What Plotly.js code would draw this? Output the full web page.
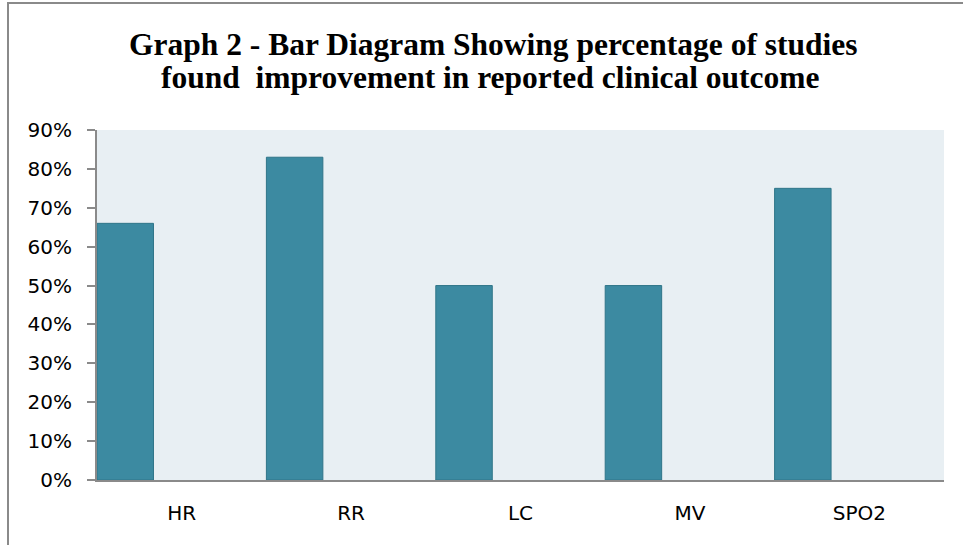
<!DOCTYPE html>
<html>
<head>
<meta charset="utf-8">
<script src="https://cdn.plot.ly/plotly-3.0.1.min.js"></script>
<style>
  html, body { margin: 0; padding: 0; background: #fff; }
  #wrap { position: relative; width: 963px; height: 545px; overflow: hidden; }
  #chart { position: absolute; left: 0; top: 0; width: 963px; height: 545px; }
  #frame { position: absolute; left: 7px; top: 2px; width: 2000px; height: 2000px;
           border-left: 2px solid #8a8a8a; border-top: 2px solid #8a8a8a; pointer-events: none; }
</style>
</head>
<body>
<div id="wrap">
  <div id="chart"></div>
  <div id="frame"></div>
</div>
<script>
const categories = ["HR", "RR", "LC", "MV", "SPO2"];
const values = [0.66, 0.83, 0.50, 0.50, 0.75];
const yTickValues = [0, 0.1, 0.2, 0.3, 0.4, 0.5, 0.6, 0.7, 0.8, 0.9];
const yTickLabels = ["0%", "10%", "20%", "30%", "40%", "50%", "60%", "70%", "80%", "90%"];
const titleLines = ["Graph 2 - Bar Diagram Showing percentage of studies",
                    "found  improvement in reported clinical outcome"];

const trace = {
  type: "bar",
  x: categories,
  y: values,
  width: 1/3,
  offset: -0.5,
  marker: { color: "#3C8AA1", line: { color: "#2F7588", width: 1 } },
  hoverinfo: "x+y"
};

const titleFont = { family: "Liberation Serif", size: 31.5, color: "#000", weight: "bold" };

const layout = {
  width: 963, height: 545,
  margin: { l: 97, r: 19, t: 130, b: 65 },
  paper_bgcolor: "rgba(0,0,0,0)",
  plot_bgcolor: "#E8EFF3",
  showlegend: false,
  annotations: [
    { text: titleLines[0], font: titleFont, showarrow: false,
      xref: "paper", yref: "paper", x: 0.4681, y: 1.2457, xanchor: "center", yanchor: "middle" },
    { text: titleLines[1], font: titleFont, showarrow: false,
      xref: "paper", yref: "paper", x: 0.4646, y: 1.1486, xanchor: "center", yanchor: "middle" }
  ],
  xaxis: {
    type: "category",
    range: [-0.5, 4.5],
    showline: true, linecolor: "#8a8a8a", linewidth: 2,
    ticks: "", showgrid: false, zeroline: false,
    tickfont: { family: "DejaVu Sans", size: 20, color: "#000" },
    ticklabelstandoff: 14
  },
  yaxis: {
    range: [0, 0.9],
    tickvals: yTickValues, ticktext: yTickLabels,
    showline: true, linecolor: "#8a8a8a", linewidth: 2,
    ticks: "outside", ticklen: 8, tickcolor: "#8a8a8a", tickwidth: 2,
    showgrid: false, zeroline: false,
    tickfont: { family: "DejaVu Sans", size: 20, color: "#000" },
    ticklabelstandoff: 11
  }
};

Plotly.newPlot("chart", [trace], layout, { displayModeBar: false, staticPlot: true });
</script>
</body>
</html>
